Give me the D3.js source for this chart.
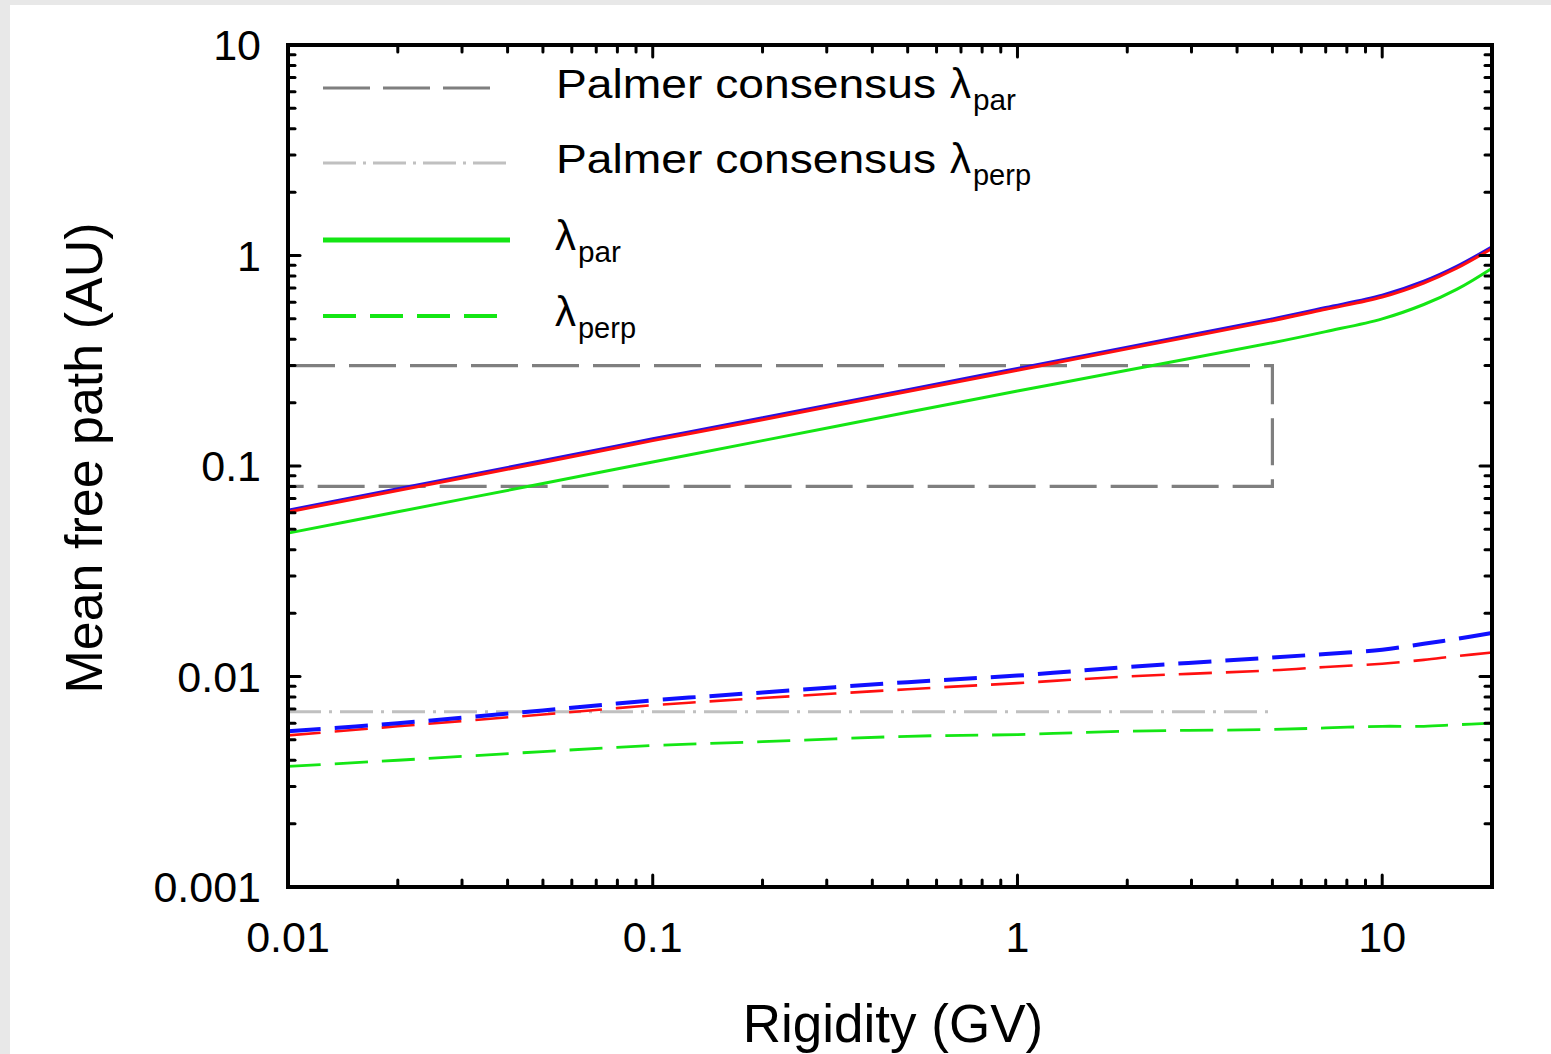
<!DOCTYPE html>
<html>
<head>
<meta charset="utf-8">
<script src="https://cdn.jsdelivr.net/npm/d3@7"></script>
<style>
  html, body { margin: 0; padding: 0; background: #e8e8e8; }
  svg { display: block; }
  text { font-family: "Liberation Sans", Arial, Helvetica, sans-serif; fill: #000; }
</style>
</head>
<body>
<svg id="chart" width="1551" height="1054"></svg>
<script>
// Rigidity grid (GV)
const rigidity = [0.01, 0.02, 0.05, 0.1, 0.2, 0.5, 1, 2, 5, 7, 10, 13, 16, 20];

// Parallel mean free paths (AU)
const parBlue  = [0.0617, 0.0780, 0.1061, 0.1346, 0.1695, 0.2305, 0.291, 0.367, 0.500, 0.566, 0.648, 0.755, 0.888, 1.10];
const parRed   = [0.0605, 0.0765, 0.1040, 0.1320, 0.1660, 0.2260, 0.285, 0.360, 0.490, 0.555, 0.635, 0.740, 0.870, 1.08];
const parGreen = [0.0480, 0.0606, 0.0826, 0.1045, 0.1320, 0.1800, 0.227, 0.285, 0.385, 0.435, 0.500, 0.585, 0.690, 0.87];

// Perpendicular mean free paths (AU)
const perpBlue  = [0.0055, 0.0060, 0.0069, 0.0077, 0.0084, 0.0094, 0.0101, 0.0111, 0.0123, 0.0128, 0.0134, 0.0143, 0.0151, 0.0161];
const perpRed   = [0.00525, 0.0058, 0.0066, 0.0073, 0.0079, 0.0087, 0.0093, 0.0100, 0.0107, 0.0111, 0.0115, 0.0120, 0.0125, 0.0130];
const perpGreen = [0.00374, 0.0040, 0.0044, 0.0047, 0.0049, 0.0052, 0.0053, 0.0055, 0.0056, 0.0057, 0.0058, 0.0058, 0.0059, 0.0060];

// Palmer consensus band
const palmerRigidity = [0.01, 5];
const palmerParRange = [0.08, 0.3];
const palmerPerpValue = 0.0068;

// Axis tick labels
const xTickValues = [0.01, 0.1, 1, 10];
const xTickLabels = ["0.01", "0.1", "1", "10"];
const yTickValues = [0.001, 0.01, 0.1, 1, 10];
const yTickLabels = ["0.001", "0.01", "0.1", "1", "10"];

const svg = d3.select("#chart");
const W = 1551, H = 1054;
const plot = { left: 288, right: 1492, top: 45, bottom: 887 };

// page sheet
svg.append("rect").attr("x", 10).attr("y", 5).attr("width", W - 10).attr("height", H - 5).attr("fill", "#ffffff");

const x = d3.scaleLog().domain([0.01, 20]).range([plot.left, plot.right]);
const y = d3.scaleLog().domain([0.001, 10]).range([plot.bottom, plot.top]);

const line = d3.line()
  .x(d => x(d[0]))
  .y(d => y(d[1]))
  .curve(d3.curveCatmullRom.alpha(0.5));

const zip = vals => rigidity.map((r, i) => [r, vals[i]]);

const g = svg.append("g");

// Palmer consensus lambda_par box
const [pLo, pHi] = palmerParRange;
const [rMin, rMax] = palmerRigidity;
g.append("path")
  .attr("d", d3.line().x(d => x(d[0])).y(d => y(d[1]))([[rMin, pHi], [rMax, pHi], [rMax, pLo], [rMin, pLo]]))
  .attr("fill", "none").attr("stroke", "#7f7f7f").attr("stroke-width", 3.2)
  .attr("stroke-dasharray", "47,14");

// Palmer consensus lambda_perp
g.append("path")
  .attr("d", d3.line().x(d => x(d[0])).y(d => y(d[1]))([[rMin, palmerPerpValue], [rMax, palmerPerpValue]]))
  .attr("fill", "none").attr("stroke", "#c0c0c0").attr("stroke-width", 3)
  .attr("stroke-dasharray", "33,8,3,8");

// Perpendicular (dashed) curves
const perpSeries = [
  { vals: perpGreen, color: "#14e614", w: 2.8 },
  { vals: perpRed,   color: "#ff1010", w: 2.6 },
  { vals: perpBlue,  color: "#1010ff", w: 4 }
];
perpSeries.forEach(s => {
  g.append("path").attr("d", line(zip(s.vals)))
    .attr("fill", "none").attr("stroke", s.color).attr("stroke-width", s.w)
    .attr("stroke-dasharray", "33,14");
});

// Parallel (solid) curves
const parSeries = [
  { vals: parGreen, color: "#14e614", w: 3 },
  { vals: parBlue,  color: "#2a10e0", w: 3 },
  { vals: parRed,   color: "#ff1010", w: 3 }
];
parSeries.forEach(s => {
  g.append("path").attr("d", line(zip(s.vals)))
    .attr("fill", "none").attr("stroke", s.color).attr("stroke-width", s.w);
});

// Ticks (inward on all four sides)
const majorLen = 12, minorLen = 7;
const xMinor = [], yMinor = [];
for (let e = -2; e <= 1; e++) for (let k = 2; k <= 9; k++) { const v = k * Math.pow(10, e); if (v <= 20) xMinor.push(v); }
for (let e = -3; e <= 0; e++) for (let k = 2; k <= 9; k++) yMinor.push(k * Math.pow(10, e));
const ticks = svg.append("g").attr("stroke", "#000").attr("stroke-width", 3).attr("stroke-linecap", "round");

function xTick(v, len) {
  ticks.append("line").attr("x1", x(v)).attr("x2", x(v)).attr("y1", plot.bottom).attr("y2", plot.bottom - len);
  ticks.append("line").attr("x1", x(v)).attr("x2", x(v)).attr("y1", plot.top).attr("y2", plot.top + len);
}
function yTick(v, len) {
  ticks.append("line").attr("y1", y(v)).attr("y2", y(v)).attr("x1", plot.left).attr("x2", plot.left + len);
  ticks.append("line").attr("y1", y(v)).attr("y2", y(v)).attr("x1", plot.right).attr("x2", plot.right - len);
}
xMinor.forEach(v => xTick(v, minorLen));
xTickValues.forEach(v => xTick(v, majorLen));
yMinor.forEach(v => yTick(v, minorLen));
yTickValues.forEach(v => yTick(v, majorLen));

// Frame
svg.append("rect")
  .attr("x", plot.left).attr("y", plot.top)
  .attr("width", plot.right - plot.left).attr("height", plot.bottom - plot.top)
  .attr("fill", "none").attr("stroke", "#000").attr("stroke-width", 4);

// Tick labels
const tickFont = 43;
svg.append("g").selectAll("text").data(xTickValues).join("text")
  .attr("x", d => x(d)).attr("y", 952)
  .attr("text-anchor", "middle").attr("font-size", tickFont)
  .text((d, i) => xTickLabels[i]);
svg.append("g").selectAll("text").data(yTickValues).join("text")
  .attr("x", 261).attr("y", d => y(d) + 15)
  .attr("text-anchor", "end").attr("font-size", tickFont)
  .text((d, i) => yTickLabels[i]);

// Axis titles
svg.append("text").attr("x", 893).attr("y", 1042)
  .attr("text-anchor", "middle").attr("font-size", 53).text("Rigidity (GV)");
svg.append("text").attr("transform", "translate(102,458) rotate(-90)")
  .attr("text-anchor", "middle").attr("font-size", 52).text("Mean free path (AU)");

// Legend
const legend = [
  { y: 88,  x2: 491, color: "#7f7f7f", w: 3.2, dash: "47,13", prefix: "Palmer consensus", sub: "par" },
  { y: 163, x2: 506, color: "#c0c0c0", w: 3,   dash: "33,7,3,7", prefix: "Palmer consensus", sub: "perp" },
  { y: 240, x2: 510, color: "#14e614", w: 5,   dash: null, prefix: "", sub: "par" },
  { y: 316, x2: 498, color: "#14e614", w: 4,   dash: "33,14", prefix: "", sub: "perp" }
];
const lg = svg.append("g");
legend.forEach(item => {
  lg.append("line").attr("x1", 323).attr("x2", item.x2).attr("y1", item.y).attr("y2", item.y)
    .attr("stroke", item.color).attr("stroke-width", item.w)
    .attr("stroke-dasharray", item.dash);
  let lx = 555;
  if (item.prefix) {
    lg.append("text").attr("x", 556).attr("y", item.y + 10).attr("font-size", 41)
      .attr("textLength", 380).attr("lengthAdjust", "spacingAndGlyphs")
      .text(item.prefix);
    lx = 950;
  }
  lg.append("text").attr("x", lx).attr("y", item.y + 10).attr("font-size", 42)
    .attr("font-family", "DejaVu Sans").attr("font-weight", 300).text("λ");
  lg.append("text").attr("x", lx + 23).attr("y", item.y + 22).attr("font-size", 29)
    .attr("textLength", item.sub === "par" ? 43 : 58).attr("lengthAdjust", "spacingAndGlyphs")
    .text(item.sub);
});
</script>
</body>
</html>
